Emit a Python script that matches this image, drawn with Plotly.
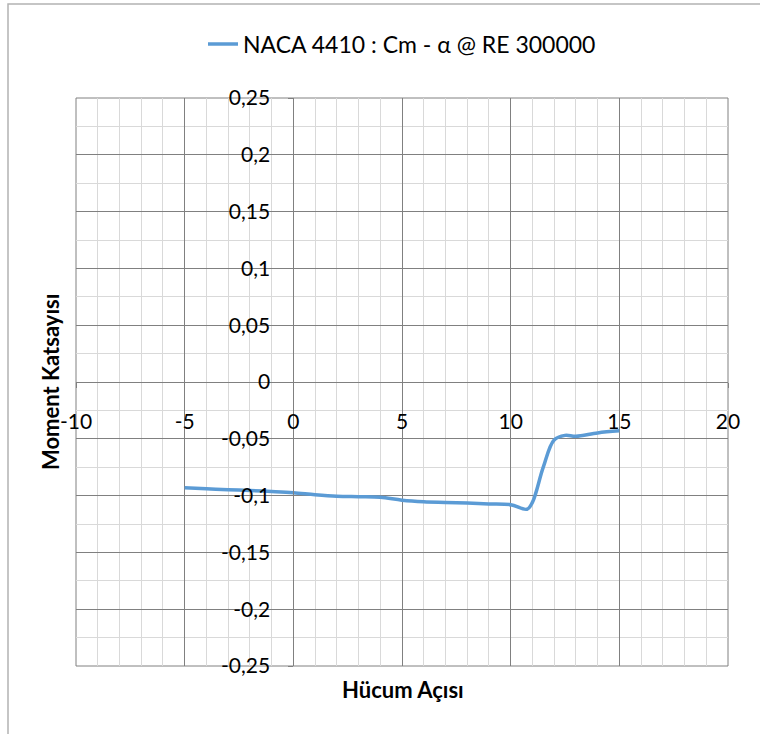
import plotly.graph_objects as go

# Data
alpha = [-5, -4, -3, -2, -1, 0, 1, 2, 3, 4, 5, 6, 7, 8, 9, 10, 10.75, 11, 11.5, 12, 12.5, 13, 14, 15]
cm = [-0.093, -0.094, -0.0948, -0.0955, -0.0964, -0.0975, -0.0992, -0.1005, -0.101, -0.1015,
      -0.104, -0.1054, -0.106, -0.1066, -0.1073, -0.108, -0.112, -0.106, -0.075, -0.051,
      -0.047, -0.0478, -0.0448, -0.043]

series_name = "NACA 4410 : Cm - α @ RE 300000"
x_title = "Hücum Açısı"
y_title = "Moment Katsayısı"

x_ticks = [-10, -5, 0, 5, 10, 15, 20]
x_ticktext = ["-10", "-5", "0", "5", "10", "15", "20"]
y_ticks = [0.25, 0.2, 0.15, 0.1, 0.05, 0, -0.05, -0.1, -0.15, -0.2, -0.25]
y_ticktext = ["0,25", "0,2", "0,15", "0,1", "0,05", "0", "-0,05", "-0,1", "-0,15", "-0,2", "-0,25"]

FONT = "Lato"
MAJOR = "#808080"
MINOR = "#d9d9d9"

fig = go.Figure()
fig.add_trace(go.Scatter(
    x=alpha, y=cm, mode="lines", name=series_name,
    line=dict(color="#5b9bd5", width=3.5, shape="spline", smoothing=1.0),
    showlegend=True,
))

# page body margin is removed below, so figure pixels == page pixels
W, H = 760, 734
PL, PR, PT, PB = 76, 728, 98, 666          # plot area in pixels
L, T = PL, PT
R = W - PR
B = H - PB
pw, ph = PR - PL, PB - PT

def px_x(px):
    return (px - PL) / pw

def px_y(py):
    return (PB - py) / ph

fig.update_layout(
    width=W, height=H,
    margin=dict(l=L, r=R, t=T, b=B, autoexpand=False),
    paper_bgcolor="white", plot_bgcolor="white",
    font=dict(family=FONT, size=21, color="#000000"),
    showlegend=True,
    legend=dict(
        x=px_x(203), xanchor="left", y=px_y(44), yanchor="middle",
        orientation="h", font=dict(family=FONT, size=23, color="#000000"),
        bgcolor="rgba(0,0,0,0)",
    ),
    xaxis=dict(
        range=[-10, 20], tickvals=x_ticks, ticktext=x_ticktext,
        showgrid=True, gridcolor=MAJOR, gridwidth=1,
        minor=dict(dtick=1, tick0=0, showgrid=True, gridcolor=MINOR, gridwidth=1),
        zeroline=False, showline=True, linecolor=MAJOR, linewidth=1,
        anchor="free", position=0.5,
        ticks="outside", ticklen=5, tickcolor=MAJOR,
        ticklabelstandoff=16,
        tickfont=dict(family=FONT, size=21, color="#000000"),
    ),
    yaxis=dict(
        range=[-0.25, 0.25], tickvals=y_ticks, ticktext=y_ticktext,
        showgrid=True, gridcolor=MAJOR, gridwidth=1,
        minor=dict(dtick=0.025, tick0=0, showgrid=True, gridcolor=MINOR, gridwidth=1),
        zeroline=False, showline=True, linecolor=MAJOR, linewidth=1,
        anchor="free", position=1/3,
        ticks="outside", ticklen=5, tickcolor=MAJOR,
        ticklabelstandoff=14,
        tickfont=dict(family=FONT, size=21, color="#000000"),
    ),
    shapes=[
        dict(type="rect", xref="x domain", yref="y domain", x0=0, x1=1, y0=0, y1=1,
             line=dict(color=MAJOR, width=1), layer="below"),
        dict(type="rect", xref="paper", yref="paper",
             x0=px_x(8), x1=px_x(800), y0=px_y(800), y1=px_y(4),
             line=dict(color="#b3b3b3", width=1.5), layer="below"),
    ],
    annotations=[
        dict(text=f"<b>{x_title}</b>", xref="paper", yref="paper",
             x=px_x(403), y=px_y(689), xanchor="center", yanchor="middle",
             showarrow=False, font=dict(family=FONT, size=22, color="#000000")),
        dict(text=f"<b>{y_title}</b>", xref="paper", yref="paper",
             x=px_x(50), y=px_y(382), xanchor="center", yanchor="middle",
             textangle=-90, showarrow=False,
             font=dict(family=FONT, size=22, color="#000000")),
    ],
)

fig.write_html(
    "out.html",
    config={"displayModeBar": False},
    post_script="document.body.style.margin='0';document.body.style.overflow='hidden';",
)
